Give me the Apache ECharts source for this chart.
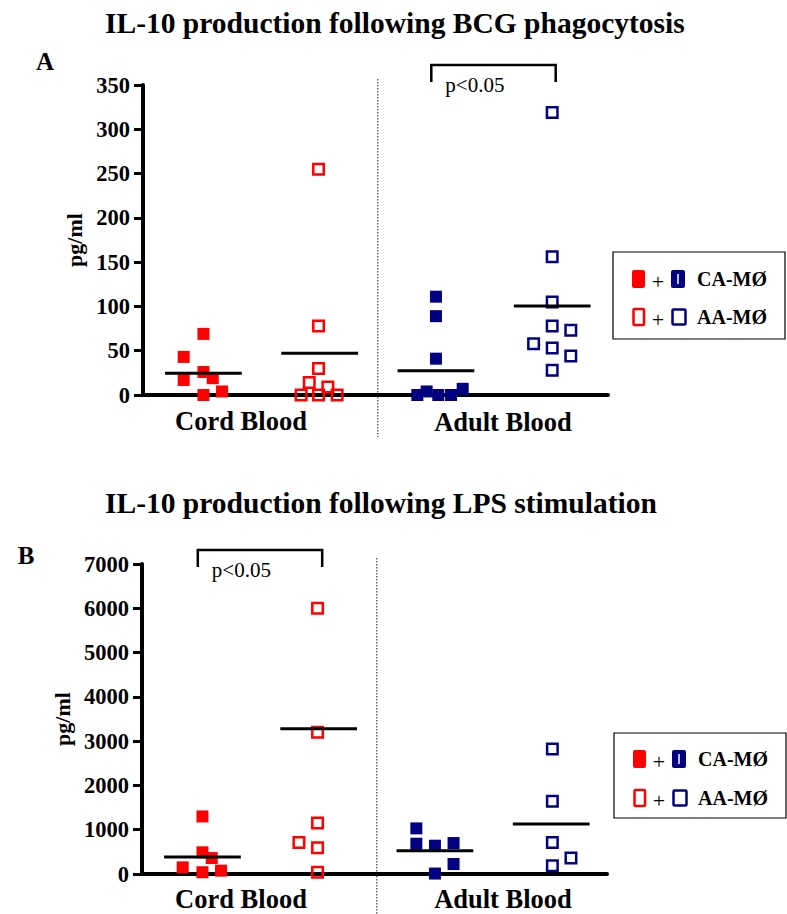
<!DOCTYPE html>
<html>
<head>
<meta charset="utf-8">
<script src="https://cdn.jsdelivr.net/npm/echarts@6/dist/echarts.min.js"></script>
<style>
  html, body { margin: 0; background: #fff; }
  #chart { width: 787px; height: 914px; }
</style>
</head>
<body>
<div id="chart"></div>
<script>
const FONT = '"Liberation Serif", "Times New Roman", serif';
const RED = '#ff0000';
const NAVY = '#000080';

// groups: Cord CA-MØ, Cord AA-MØ, Adult CA-MØ, Adult AA-MØ
const groupPos = [0.52, 1.52, 2.52, 3.52];
const groupColors = [RED, RED, NAVY, NAVY];
const groupFilled = [true, false, true, false];
const bloodLabels = ['Cord Blood', 'Adult Blood'];
const titles = ['IL-10 production following BCG phagocytosis', 'IL-10 production following LPS stimulation'];
const panelLetters = ['A', 'B'];
const legendLabels = ['CA-MØ', 'AA-MØ'];
const pLabel = 'p<0.05';

// panel A - BCG phagocytosis, [x, pg/ml]
const bcgCordCA = [[0.52, 69], [0.35, 43], [0.35, 17], [0.52, 26], [0.6, 19], [0.52, 0], [0.68, 4]];
const bcgCordAA = [[1.51, 255], [1.51, 78], [1.51, 30], [1.43, 14], [1.59, 9], [1.36, 0], [1.51, 0], [1.67, 0]];
const bcgAdultCA = [[2.52, 111], [2.52, 89], [2.52, 41], [2.36, 0], [2.44, 4], [2.54, 0], [2.65, 0], [2.75, 7]];
const bcgAdultAA = [[3.52, 319], [3.52, 156], [3.52, 105], [3.52, 78], [3.68, 73], [3.36, 58], [3.52, 53], [3.68, 44], [3.52, 28]];
const bcgMeans = [24.5, 47, 27.5, 100.5];
const bcgTicks = [0, 350, 50];
const bcgSig = [2, 3];

// panel B - LPS stimulation, [x, pg/ml]
const lpsCordCA = [[0.52, 1300], [0.52, 490], [0.6, 360], [0.35, 150], [0.52, 40], [0.68, 75]];
const lpsCordAA = [[1.51, 6000], [1.51, 3200], [1.51, 1150], [1.35, 710], [1.51, 590], [1.51, 40]];
const lpsAdultCA = [[2.36, 1030], [2.36, 684], [2.52, 639], [2.68, 699], [2.68, 225], [2.52, 10]];
const lpsAdultAA = [[3.53, 2822], [3.53, 1640], [3.53, 713], [3.69, 360], [3.53, 187]];
const lpsMeans = [384, 3280, 526, 1130];
const lpsTicks = [0, 7000, 1000];
const lpsSig = [0, 1];

const chart = echarts.init(document.getElementById('chart'), null, { renderer: 'svg' });

function scatterSeries(data, g, idx) {
  const filled = groupFilled[g];
  return {
    type: 'scatter',
    xAxisIndex: idx,
    yAxisIndex: idx,
    data: data,
    symbol: 'rect',
    symbolSize: filled ? 12 : 10.5,
    itemStyle: filled
      ? { color: groupColors[g], opacity: 1 }
      : { color: 'rgba(255,255,255,0)', borderColor: groupColors[g], borderWidth: 2.5, opacity: 1 },
    silent: true,
    z: 3
  };
}

function meanSeries(means, idx) {
  return {
    type: 'custom',
    xAxisIndex: idx,
    yAxisIndex: idx,
    data: means.map((m, g) => [groupPos[g], m]),
    renderItem: (params, api) => {
      const a = api.coord([api.value(0) - 0.33, api.value(1)]);
      const b = api.coord([api.value(0) + 0.33, api.value(1)]);
      return {
        type: 'line',
        shape: { x1: a[0], y1: a[1], x2: b[0], y2: b[1] },
        style: { stroke: '#000', lineWidth: 3 }
      };
    },
    silent: true,
    z: 5
  };
}

// dotted divider between cord / adult and the significance bracket
function decorSeries(ticks, sig, idx, topGap) {
  return {
    type: 'custom',
    xAxisIndex: idx,
    yAxisIndex: idx,
    data: [[0, 0]],
    renderItem: (params, api) => {
      const top = api.coord([0, ticks[1]])[1];
      const bottom = api.coord([0, ticks[0]])[1];
      const mid = api.coord([2.02, 0])[0];
      const x1 = api.coord([groupPos[sig[0]] - 0.04, 0])[0];
      const x2 = api.coord([groupPos[sig[1]] + 0.03, 0])[0];
      const yb = top - topGap;
      return {
        type: 'group',
        children: [
          {
            type: 'line',
            shape: { x1: mid, y1: top - 6, x2: mid, y2: bottom + 42 },
            style: { stroke: '#222', lineWidth: 1, lineDash: [1.5, 1.5] }
          },
          {
            type: 'polyline',
            shape: { points: [[x1, yb + 17], [x1, yb], [x2, yb], [x2, yb + 17]] },
            style: { stroke: '#000', lineWidth: 2.5, fill: null }
          },
          {
            type: 'text',
            style: {
              x: x1 + 14, y: yb + 20, text: pLabel,
              font: '21px ' + FONT, fill: '#000', verticalAlign: 'middle'
            }
          }
        ]
      };
    },
    silent: true
  };
}

function yAxisFor(ticks, idx) {
  return {
    type: 'value',
    gridIndex: idx,
    min: ticks[0],
    max: ticks[1],
    interval: ticks[2],
    name: 'pg/ml',
    nameLocation: 'middle',
    nameGap: 40,
    nameRotate: 90,
    nameTextStyle: { fontFamily: FONT, fontWeight: 'bold', fontSize: 22, color: '#000' },
    axisLine: { show: true, lineStyle: { color: '#000', width: 4 } },
    axisTick: { show: true, length: 9, lineStyle: { color: '#000', width: 3 } },
    axisLabel: {
      fontFamily: FONT, fontWeight: 'bold', fontSize: 22.5, color: '#000', margin: 13,
      formatter: (v) => String(v)
    },
    splitLine: { show: false }
  };
}

function xAxisFor(idx) {
  return {
    type: 'value',
    gridIndex: idx,
    min: 0,
    max: 4,
    axisLine: { show: true, lineStyle: { color: '#000', width: 4 } },
    axisTick: { show: false },
    axisLabel: { show: false },
    splitLine: { show: false }
  };
}

function text(x, y, str, font, align) {
  return {
    type: 'text',
    style: { x: x, y: y, text: str, font: font, fill: '#000', align: align || 'left', verticalAlign: 'middle' }
  };
}

function legendGroup(x0, y0, w, h, r1, r2) {
  const bold = 'bold 20px ' + FONT;
  const plain = '22px ' + FONT;
  return [
    { type: 'rect', shape: { x: x0, y: y0, width: w, height: h }, style: { fill: '#fff', stroke: '#000', lineWidth: 1.2 } },
    { type: 'rect', shape: { x: x0 + 19, y: r1 - 9, width: 13, height: 18, r: 2 }, style: { fill: RED } },
    text(x0 + 45, r1 + 2, '+', plain, 'center'),
    { type: 'rect', shape: { x: x0 + 58, y: r1 - 9, width: 14, height: 18, r: 2 }, style: { fill: NAVY } },
    { type: 'line', shape: { x1: x0 + 65, y1: r1 - 5, x2: x0 + 65, y2: r1 + 5 }, style: { stroke: '#fff', lineWidth: 1.5 } },
    text(x0 + 84, r1, legendLabels[0], bold),
    { type: 'rect', shape: { x: x0 + 20.5, y: r2 - 8, width: 10.5, height: 16, r: 1 }, style: { fill: '#fff', stroke: RED, lineWidth: 2.5 } },
    text(x0 + 45, r2 + 2, '+', plain, 'center'),
    { type: 'rect', shape: { x: x0 + 59.5, y: r2 - 7.5, width: 13, height: 15, r: 1 }, style: { fill: '#fff', stroke: NAVY, lineWidth: 2.5 } },
    text(x0 + 84, r2, legendLabels[1], bold)
  ];
}

const titleFont = 'bold 29.5px ' + FONT;
const letterFont = 'bold 25px ' + FONT;
const catFont = 'bold 26.5px ' + FONT;

const option = {
  animation: false,
  backgroundColor: '#fff',
  grid: [
    { left: 143, top: 85, width: 465, height: 310 },
    { left: 142, top: 564, width: 465, height: 310 }
  ],
  xAxis: [xAxisFor(0), xAxisFor(1)],
  yAxis: [yAxisFor(bcgTicks, 0), yAxisFor(lpsTicks, 1)],
  series: [
    scatterSeries(bcgCordCA, 0, 0),
    scatterSeries(bcgCordAA, 1, 0),
    scatterSeries(bcgAdultCA, 2, 0),
    scatterSeries(bcgAdultAA, 3, 0),
    meanSeries(bcgMeans, 0),
    decorSeries(bcgTicks, bcgSig, 0, 20),
    scatterSeries(lpsCordCA, 0, 1),
    scatterSeries(lpsCordAA, 1, 1),
    scatterSeries(lpsAdultCA, 2, 1),
    scatterSeries(lpsAdultAA, 3, 1),
    meanSeries(lpsMeans, 1),
    decorSeries(lpsTicks, lpsSig, 1, 14)
  ],
  graphic: [
    text(105, 23, titles[0], titleFont),
    text(105, 503, titles[1], titleFont),
    text(45, 61, panelLetters[0], letterFont, 'center'),
    text(26, 555, panelLetters[1], letterFont, 'center'),
    text(241, 421, bloodLabels[0], catFont, 'center'),
    text(503, 422, bloodLabels[1], catFont, 'center'),
    text(241, 899, bloodLabels[0], catFont, 'center'),
    text(503, 899, bloodLabels[1], catFont, 'center'),
    ...legendGroup(613, 252, 172, 87, 279, 317),
    ...legendGroup(614, 733, 172, 85, 759, 798)
  ]
};

chart.setOption(option);
</script>
</body>
</html>
